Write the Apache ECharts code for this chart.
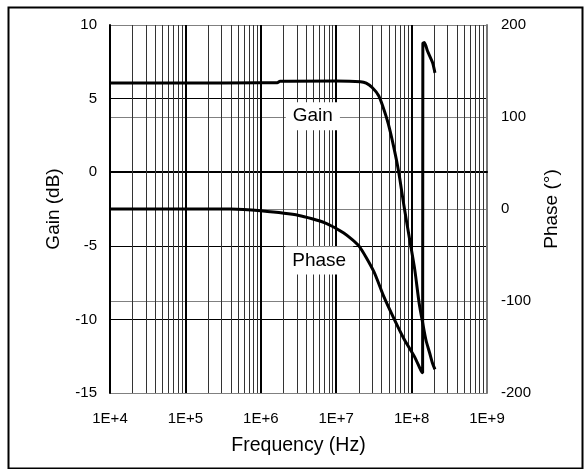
<!DOCTYPE html>
<html>
<head>
<meta charset="utf-8">
<script src="https://cdn.jsdelivr.net/npm/echarts@6/dist/echarts.min.js"></script>
<style>
html,body{margin:0;padding:0;background:#fff;}
#chart{width:586px;height:469px;}
</style>
</head>
<body>
<div id="chart"></div>
<script>
// ---- data ----
const xTickLabels = ['1E+4', '1E+5', '1E+6', '1E+7', '1E+8', '1E+9'];
const gainFreq = [1e4, 1e5, 1e6, 1.65e6, 1.8e6, 1e7, 2.1e7, 2.5e7, 3.0e7, 3.66e7, 4.2e7, 4.9e7, 5.8e7, 6.75e7, 7.9e7, 9.3e7, 1.1e8, 1.26e8, 1.41e8, 1.55e8, 1.74e8, 1.9e8, 2.04e8];
const gainDb   = [6.06, 6.06, 6.07, 6.08, 6.18, 6.2, 6.15, 6.05, 5.75, 5.2, 4.4, 3.3, 1.7, 0.0, -2.25, -4.4, -6.6, -8.9, -10.3, -11.4, -12.3, -13.0, -13.4];
const phaseFreq = [1e4, 4e5, 1e6, 3.2e6, 7.1e6, 1.26e7, 2e7, 3.16e7, 4.27e7, 5.9e7, 7.9e7, 1.1e8, 1.32e8, 1.4e8, 1.41e8, 1.48e8, 1.62e8, 1.9e8, 2.04e8];
const phaseDeg  = [0, 0, -2, -7, -15, -26, -40, -68, -95, -120, -141, -161, -175, -178, 180, 181, 172, 159, 148];
const gainTicks = { min: -15, max: 10, interval: 5 };
const phaseTicks = { min: -200, max: 200, interval: 100 };
const labelGain = { text: 'Gain', freq: 4.9e6, gain: 3.8 };
const labelPhase = { text: 'Phase', freq: 5.96e6, gain: -6.0 };

// minor vertical grid lines (2..9 x each decade)
const minorFreqs = [];
for (let d = 4; d < 9; d++) {
  for (let m = 2; m <= 9; m++) minorFreqs.push(m * Math.pow(10, d));
}

const FONT = 'Liberation Sans, Arial, sans-serif';
const chart = echarts.init(document.getElementById('chart'), null, { renderer: 'canvas' });

function annot(lbl) {
  return {
    coord: [lbl.freq, lbl.gain],
    symbol: 'rect',
    symbolSize: 1,
    itemStyle: { color: 'transparent' },
    label: {
      show: true, position: 'inside', formatter: lbl.text,
      fontFamily: FONT, fontSize: 19, color: '#000',
      backgroundColor: '#fff', padding: [5, 7, 4, 7]
    }
  };
}

chart.setOption({
  animation: false,
  backgroundColor: '#fff',
  textStyle: { fontFamily: FONT },
  graphic: [{
    type: 'rect', left: 6, top: 5, z: 100, silent: true,
    shape: { width: 574, height: 461 },
    style: { fill: 'none', stroke: '#000', lineWidth: 2 }
  }],
  grid: { left: 110, right: 99, top: 25, bottom: 76, show: false },
  xAxis: {
    type: 'log', logBase: 10, min: 1e4, max: 1e9,
    name: 'Frequency (Hz)', nameLocation: 'middle', nameGap: 43,
    nameTextStyle: { fontSize: 19.5, color: '#000', fontFamily: FONT },
    axisLine: { show: true, lineStyle: { color: '#000', width: 2 } },
    axisTick: { show: false },
    axisLabel: {
      fontSize: 15, color: '#000', margin: 18, fontFamily: FONT,
      formatter: v => xTickLabels[Math.round(Math.log10(v)) - 4]
    },
    splitLine: { show: true, lineStyle: { color: '#000', width: 2 } },
    minorTick: { show: false }, minorSplitLine: { show: false }
  },
  yAxis: [{
    type: 'value', min: gainTicks.min, max: gainTicks.max, interval: gainTicks.interval,
    position: 'left',
    name: 'Gain (dB)', nameLocation: 'middle', nameGap: 47,
    nameTextStyle: { fontSize: 19, color: '#000', fontFamily: FONT },
    axisLine: { show: true, lineStyle: { color: '#000', width: 2 } },
    axisTick: { show: false },
    axisLabel: { fontSize: 15, color: '#000', margin: 13, fontFamily: FONT },
    splitLine: { show: true, lineStyle: { color: '#000', width: 1 } }
  }, {
    type: 'value', min: phaseTicks.min, max: phaseTicks.max, interval: phaseTicks.interval,
    position: 'right',
    name: 'Phase (°)', nameLocation: 'middle', nameGap: 53,
    nameTextStyle: { fontSize: 19, color: '#000', fontFamily: FONT },
    axisLine: { show: true, lineStyle: { color: '#777', width: 2 } },
    axisTick: { show: false },
    axisLabel: { fontSize: 15, color: '#000', margin: 14, fontFamily: FONT },
    splitLine: { show: true, lineStyle: { color: '#808080', width: 1 } }
  }],
  series: [{
    type: 'line', name: 'grid', xAxisIndex: 0, yAxisIndex: 0, z: 1,
    data: [[1e4, -15]], showSymbol: false, silent: true,
    lineStyle: { opacity: 0 },
    markLine: {
      silent: true, z: 1, symbol: ['none', 'none'], label: { show: false },
      lineStyle: { color: '#333', width: 1, type: 'solid' },
      emphasis: { disabled: true },
      data: minorFreqs.map(f => ({ xAxis: f }))
    }
  }, {
    type: 'line', name: 'Gain', xAxisIndex: 0, yAxisIndex: 0, z: 5,
    data: gainFreq.map((f, i) => [f, gainDb[i]]),
    showSymbol: false, smooth: 0.25,
    lineStyle: { color: '#000', width: 3 },
    markPoint: { silent: true, z: 6, data: [annot(labelGain), annot(labelPhase)] }
  }, {
    type: 'line', name: 'Phase', xAxisIndex: 0, yAxisIndex: 1, z: 5,
    data: phaseFreq.map((f, i) => [f, phaseDeg[i]]),
    showSymbol: false, smooth: 0.2,
    lineStyle: { color: '#000', width: 3 }
  }]
});
</script>
</body>
</html>
